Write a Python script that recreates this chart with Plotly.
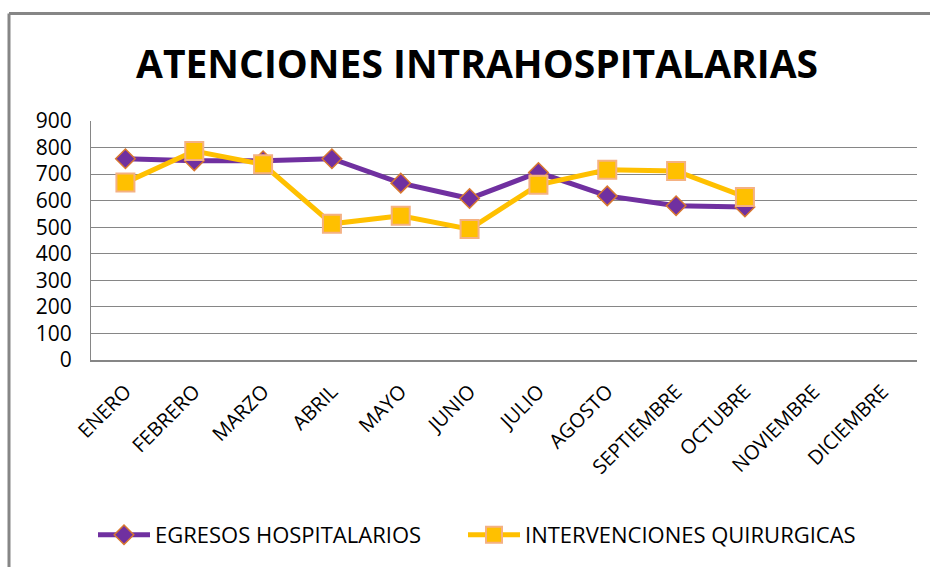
import plotly.graph_objects as go

months = ["ENERO", "FEBRERO", "MARZO", "ABRIL", "MAYO", "JUNIO", "JULIO",
          "AGOSTO", "SEPTIEMBRE", "OCTUBRE", "NOVIEMBRE", "DICIEMBRE"]
egresos = [758, 750, 750, 758, 666, 608, 706, 618, 581, 576, None, None]
intervenciones = [668, 787, 737, 513, 543, 493, 660, 716, 712, 614, None, None]
y_ticks = [0, 100, 200, 300, 400, 500, 600, 700, 800, 900]

FONT = "Open Sans"
W, H = 930, 567
ML, MR, MT, MB = 91, 13, 121, 206
pw, ph = W - ML - MR, H - MT - MB

fig = go.Figure()
fig.add_trace(go.Scatter(
    x=months, y=egresos, name="EGRESOS HOSPITALARIOS", mode="lines+markers",
    line=dict(color="#7030A0", width=5),
    marker=dict(symbol="diamond", size=15, color="#7030A0",
                line=dict(color="#D9782F", width=1.5)),
    legend="legend",
))
fig.add_trace(go.Scatter(
    x=months, y=intervenciones, name="INTERVENCIONES QUIRURGICAS", mode="lines+markers",
    line=dict(color="#FFC000", width=5),
    marker=dict(symbol="square", size=18, color="#FFC000",
                line=dict(color="#F4B183", width=2)),
    legend="legend2",
))

def px_x(x):
    return (x - ML) / pw

def px_y(y):
    return (H - MB - y) / ph

leg_common = dict(orientation="h", xanchor="left", y=px_y(535), yanchor="middle",
                  font=dict(size=22, family=FONT, color="black"),
                  itemwidth=52, bgcolor="rgba(0,0,0,0)")

fig.update_layout(
    width=W, height=H,
    margin=dict(l=ML, r=MR, t=MT, b=MB),
    paper_bgcolor="white", plot_bgcolor="white",
    font=dict(family=FONT, color="black"),
    showlegend=True,
    legend=dict(x=px_x(93), **leg_common),
    legend2=dict(x=px_x(463), **leg_common),
    annotations=[dict(text="<b>ATENCIONES INTRAHOSPITALARIAS</b>",
                      x=px_x(477), y=px_y(62), xref="paper", yref="paper",
                      xanchor="center", yanchor="middle", showarrow=False,
                      font=dict(size=39, family=FONT, color="black"))],
    shapes=[
        dict(type="line", xref="paper", yref="paper",
             x0=px_x(9), x1=px_x(9), y0=px_y(13), y1=px_y(570),
             line=dict(color="#868686", width=3)),
        dict(type="line", xref="paper", yref="paper",
             x0=px_x(9), x1=px_x(935), y0=px_y(13), y1=px_y(13),
             line=dict(color="#868686", width=3)),
    ],
)
fig.update_xaxes(
    type="category", categoryorder="array", categoryarray=months,
    tickangle=-45, tickfont=dict(size=20, family=FONT, color="black"),
    showline=True, linecolor="#868686", linewidth=2, showgrid=False,
    ticks="", range=[-0.5, 11.5], ticklabelstandoff=10,
)
fig.update_yaxes(
    range=[0, 900], tickvals=y_ticks, ticktext=[str(v) for v in y_ticks],
    tickfont=dict(size=21, family=FONT, color="black"),
    showgrid=True, gridcolor="#868686", gridwidth=1,
    showline=True, linecolor="#868686", linewidth=1, ticks="",
    zeroline=False, ticklabelstandoff=14,
)

fig.write_html("out.html", config={"displayModeBar": False},
               post_script="document.body.style.margin='0';")
